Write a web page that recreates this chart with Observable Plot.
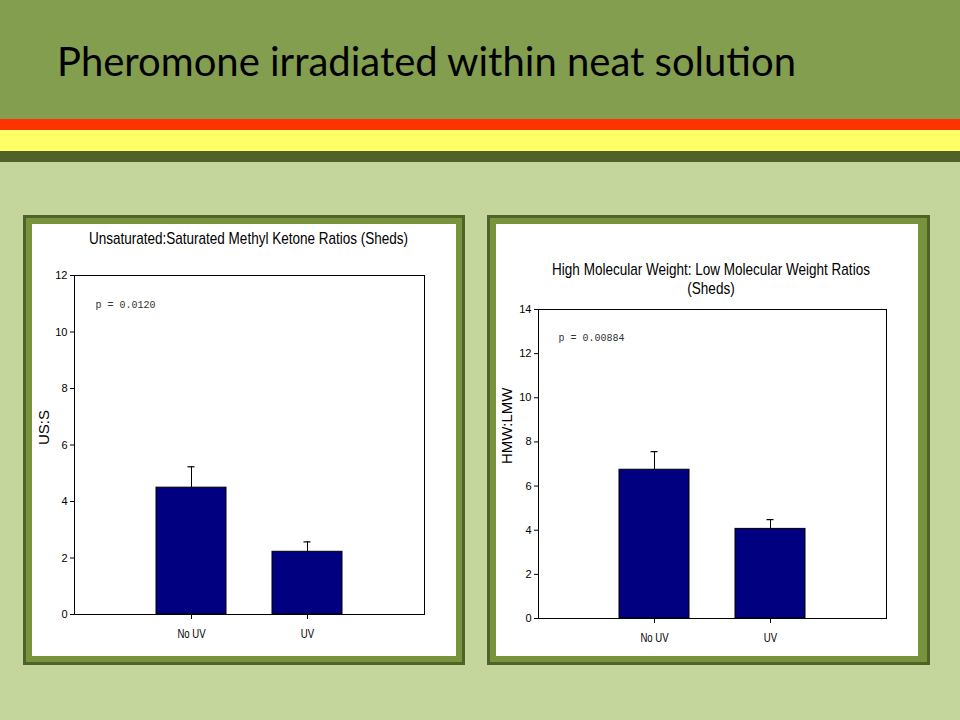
<!DOCTYPE html>
<html>
<head>
<meta charset="utf-8">
<script src="https://cdn.jsdelivr.net/npm/d3@7"></script>
<script src="https://cdn.jsdelivr.net/npm/@observablehq/plot@0.6"></script>
<style>
  html, body { margin: 0; padding: 0; }
  body { width: 960px; height: 720px; background: #c4d69b; position: relative; overflow: hidden; }
  .band { position: absolute; left: 0; width: 960px; }
  #slideTitle { position: absolute; left: 57px; top: 41px; font-family: Lato, "Open Sans", sans-serif; font-size: 40px; line-height: 40px; color: #000; white-space: nowrap; }
  .panel { position: absolute; top: 215px; border: 3px solid #4f6228; background: #77933c; padding: 6px; }
  .panel .inner { background: #fff; }
  .panel svg { display: block; }
</style>
</head>
<body>
<div class="band" style="top:0;height:119px;background:#849e50"></div>
<div class="band" style="top:119px;height:11px;background:#ff3300"></div>
<div class="band" style="top:130px;height:21px;background:#ffff66"></div>
<div class="band" style="top:151px;height:11px;background:#4f6228"></div>
<div id="slideTitle">Pheromone irradiated within neat solution</div>
<div class="panel" id="leftPanel" style="left:23px;"><div class="inner" id="leftChart"></div></div>
<div class="panel" id="rightPanel" style="left:487px;padding-right:9px;"><div class="inner" id="rightChart"></div></div>
<script>
const categories = ["No UV", "UV"];
const ususMean = [4.49, 2.22];
const ususUpper = [5.23, 2.57];
const hmwMean = [6.74, 4.06];
const hmwUpper = [7.56, 4.48];
const ususTicks = [0, 2, 4, 6, 8, 10, 12];
const hmwTicks = [0, 2, 4, 6, 8, 10, 12, 14];
const ususTitle = "Unsaturated:Saturated Methyl Ketone Ratios (Sheds)";
const hmwTitle = "High Molecular Weight: Low Molecular Weight Ratios\n(Sheds)";
const ususLabel = "US:S";
const hmwLabel = "HMW:LMW";
const ususP = "p = 0.0120";
const hmwP = "p = 0.00884";

function squeeze(sel, f) {
  sel.each(function () {
    const t = this.getAttribute("transform") || "";
    this.setAttribute("transform", t + ` scale(${f},1)`);
  });
}

function chart(o) {
  const rows = categories.map((c, i) => ({cat: c, mean: o.means[i], upper: o.uppers[i]}));
  const svg = Plot.plot({
    width: o.width, height: o.height,
    marginLeft: o.ml, marginRight: o.mr, marginTop: o.mt, marginBottom: o.mb,
    style: {background: "white", fontFamily: "'Liberation Sans', Arial, sans-serif", color: "black", overflow: "visible"},
    x: {type: "band", domain: categories, paddingInner: 0.4, paddingOuter: 0.7},
    y: {domain: [0, o.ticks[o.ticks.length - 1]]},
    marks: [
      Plot.barY(rows, {x: "cat", y: "mean", fill: "#000080", stroke: "black", strokeWidth: 1}),
      Plot.ruleX(rows, {x: "cat", y1: "mean", y2: "upper", stroke: "black", strokeWidth: 1}),
      Plot.tickY(rows, {x: "cat", y: "upper", stroke: "black", strokeWidth: 1.2, insetLeft: 31.5, insetRight: 31.5}),
      Plot.frame({stroke: "black", strokeWidth: 1}),
      Plot.axisY({ticks: o.ticks, tickSize: 4, tickPadding: 3, fontSize: 11, label: null, tickFormat: d => String(d)}),
      Plot.axisX({tickSize: 5, tickPadding: 10, fontSize: 12, label: null}),
      Plot.text([o.ylabel], {text: d => d, frameAnchor: "left", dx: o.ylabelDx, rotate: -90, fontSize: 15}),
      Plot.text([o.p], {text: d => d, frameAnchor: "top-left", dx: o.pdx, dy: o.pdy, lineAnchor: "bottom", textAnchor: "start", fontFamily: "'Liberation Mono', 'DejaVu Sans Mono', monospace", fontSize: 10, fill: "#333"}),
      Plot.text([o.title], {text: d => d, frameAnchor: "top", dx: o.tdx, dy: o.tdy, lineAnchor: "bottom", fontSize: 16, lineHeight: 1.15})
    ]
  });
  const s = d3.select(svg);
  squeeze(s.selectAll("g[aria-label='x-axis tick label'] text"), 0.8);
  const flat = o.title.replace("\n", "");
  squeeze(s.selectAll("text").filter(function () { return this.textContent === flat; }), 0.845);
  return svg;
}

document.getElementById("leftChart").appendChild(chart({
  means: ususMean, uppers: ususUpper, ticks: ususTicks,
  width: 424, height: 432, ml: 42, mr: 32, mt: 51, mb: 42,
  ylabel: ususLabel, ylabelDx: -30, p: ususP, pdx: 21, pdy: 32,
  title: ususTitle, tdx: -1, tdy: -32
}));
document.getElementById("rightChart").appendChild(chart({
  means: hmwMean, uppers: hmwUpper, ticks: hmwTicks,
  width: 422, height: 432, ml: 42, mr: 32, mt: 85, mb: 38,
  ylabel: hmwLabel, ylabelDx: -31, p: hmwP, pdx: 20, pdy: 31,
  title: hmwTitle, tdx: -1.5, tdy: -16
}));
</script>
</body>
</html>
